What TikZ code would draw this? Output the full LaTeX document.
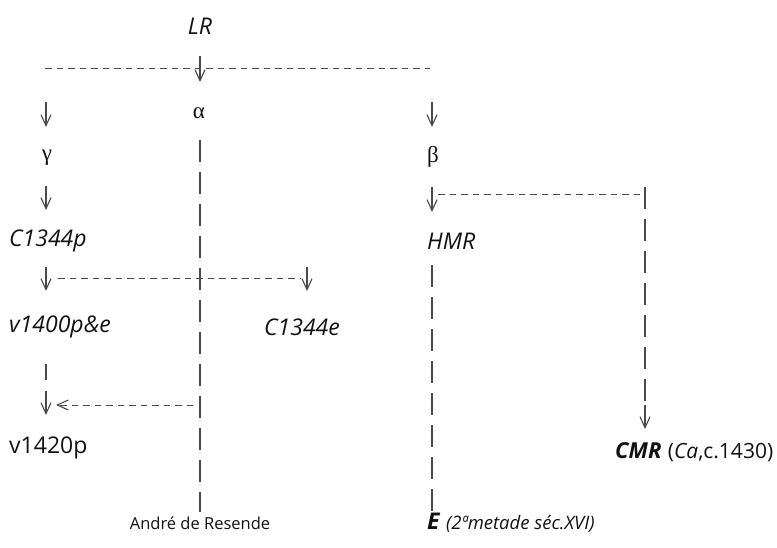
\documentclass[tikz,border=0pt]{standalone}
\usepackage{fontspec}
\setmainfont{Open Sans}
\newfontfamily\grk{Liberation Serif}
\usetikzlibrary{arrows.meta}
\definecolor{ink}{HTML}{111111}
\definecolor{ln}{HTML}{4A4A4A}
\tikzset{
  lbl/.style={inner sep=0pt, text=ink, font=\fontsize{23}{26}\selectfont},
  ms/.style={inner sep=0pt, text=ink, font=\fontsize{23}{26}\selectfont\itshape},
  bms/.style={inner sep=0pt, text=ink, font=\fontsize{22}{26}\selectfont\bfseries\itshape},
  gk/.style={inner sep=0pt, text=ink, font=\fontsize{23}{26}\selectfont\grk},
  small/.style={inner sep=0pt, text=ink, font=\fontsize{16.5}{19}\selectfont},
  note/.style={inner sep=0pt, text=ink, font=\fontsize{18.5}{21}\selectfont\itshape},
  arr/.style={draw=ln, line width=1.1pt, -{Straight Barb[length=11pt,width=10pt,line width=1.1pt]}},
  hdash/.style={draw=ln, line width=1pt, dash pattern=on 6.5pt off 5pt},
  vdash/.style={draw=ln, line width=1.05pt, dash pattern=on 22pt off 10pt},
  vsolid/.style={draw=ln, line width=1.05pt},
}
\begin{document}
\begin{tikzpicture}[x=1pt,y=-1pt]
\useasboundingbox (0,0) rectangle (777,547);
% texts
\node[ms] (LR) at (200,26) {LR};
\node[gk] (alpha) at (199,113) {α};
\node[gk] (gamma) at (47,158) {γ};
\node[gk] (beta) at (433,157) {β};
\node[ms, anchor=west] (C1344p) at (9,241) {C1344p};
\node[ms, anchor=west] (HMR) at (427,241) {HMR};
\node[ms, anchor=west] (v1400) at (9,327) {v1400p\&e};
\node[ms, anchor=west] (C1344e) at (264,327) {C1344e};
\node[lbl, anchor=west] (v1420p) at (9,448) {v1420p};
\node[bms, anchor=base west] (CMR) at (615,458) {CMR};
\node[inner sep=0pt, text=ink, font=\fontsize{21}{24}\selectfont, anchor=base west] (CMRn) at ([xshift=6pt]CMR.base east) {(\textit{Ca},c.1430)};
\node[small] (AR) at (200,523) {André de Resende};
\node[bms, font=\fontsize{23}{26}\selectfont\bfseries\itshape, anchor=base west] (E) at (427,529) {E};
\node[note, anchor=base west] (En) at ([xshift=6pt]E.base east) {(2ªmetade séc.XVI)};
% coordinates
\coordinate (h1a) at (45,68);   \coordinate (h1b) at (430,68);
\coordinate (a1a) at (200,56);  \coordinate (a1b) at (200,82);
\coordinate (a2a) at (46,102);  \coordinate (a2b) at (46,127);
\coordinate (a3a) at (432,102); \coordinate (a3b) at (432,127);
\coordinate (a4a) at (46,186);  \coordinate (a4b) at (46,210);
\coordinate (a5a) at (432,187); \coordinate (a5b) at (432,212);
\coordinate (h2a) at (438,194); \coordinate (h2b) at (640,194);
\coordinate (a6a) at (46,267);  \coordinate (a6b) at (46,291);
\coordinate (a7a) at (307,267); \coordinate (a7b) at (307,291);
\coordinate (h3a) at (58,278);  \coordinate (h3b) at (300,278);
\coordinate (d1a) at (46,364);  \coordinate (d1b) at (46,380);
\coordinate (a8a) at (46,391);  \coordinate (a8b) at (46,415);
\coordinate (a9a) at (193,405); \coordinate (a9b) at (56,405);
\coordinate (v1a) at (200,140); \coordinate (v1b) at (200,512);
\coordinate (v2a) at (432,265); \coordinate (v2b) at (432,511);
\coordinate (v3a) at (645,187); \coordinate (v3b) at (645,401);
\coordinate (a10a) at (645,405); \coordinate (a10b) at (645,429);
% lines
\draw[hdash] (h1a) -- (h1b);
\draw[hdash] (h2a) -- (h2b);
\draw[hdash] (h3a) -- (h3b);
\draw[vdash] (v1a) -- (v1b);
\draw[vdash] (v2a) -- (v2b);
\draw[vdash] (v3a) -- (v3b);
\draw[vsolid] (d1a) -- (d1b);
\draw[arr] (a1a) -- (a1b);
\draw[arr] (a2a) -- (a2b);
\draw[arr] (a3a) -- (a3b);
\draw[arr] (a4a) -- (a4b);
\draw[arr] (a5a) -- (a5b);
\draw[arr] (a6a) -- (a6b);
\draw[arr] (a7a) -- (a7b);
\draw[arr] (a8a) -- (a8b);
\draw[arr, hdash] (a9a) -- (a9b);
\draw[arr] (a10a) -- (a10b);
\end{tikzpicture}
\end{document}
